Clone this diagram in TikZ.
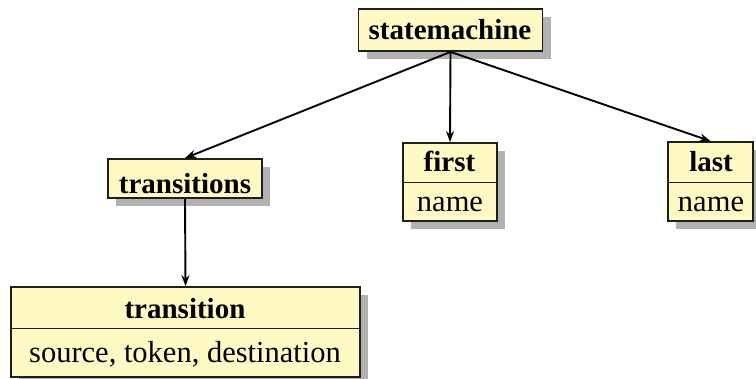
\documentclass[tikz,border=0pt]{standalone}
\usepackage{fontspec}
\setmainfont{Liberation Serif}
\newfontfamily\labelface{Liberation Serif}
\usetikzlibrary{shadows,arrows.meta}
\definecolor{boxfill}{RGB}{255,249,196}
\definecolor{boxline}{RGB}{30,30,30}
\definecolor{shade}{RGB}{178,178,178}
\begin{document}
\begin{tikzpicture}[x=1pt,y=-1pt,
  classbox/.style={draw=boxline, line width=1.8pt, fill=boxfill, inner sep=0pt,
    drop shadow={shadow xshift=8pt, shadow yshift=-8pt, fill=shade, opacity=1}},
  title/.style={font=\labelface\fontsize{29}{34}\selectfont\bfseries, inner sep=0pt, anchor=base},
  body/.style={font=\labelface\fontsize{30.5}{36}\selectfont, inner sep=0pt, anchor=base},
  divider/.style={draw=boxline, line width=1.2pt},
  link/.style={line width=1.9pt, -{Stealth[length=11pt,width=8pt]}}
]
\useasboundingbox (0,0) rectangle (756,379);

% class boxes
\node[classbox, minimum width=184pt, minimum height=42pt] (sm) at (450.5,30) {};
\node[classbox, minimum width=154pt, minimum height=39pt] (trs) at (185,178.5) {};
\node[classbox, minimum width=94pt, minimum height=78pt] (first) at (450,182) {};
\node[classbox, minimum width=85pt, minimum height=79pt] (last) at (710.5,181.5) {};
\node[classbox, minimum width=349pt, minimum height=90pt] (trn) at (185.5,332) {};

% compartment dividers
\coordinate (firstD) at (450,182.7);
\coordinate (lastD) at (710.5,182.7);
\coordinate (trnD) at (185.5,328.3);
\draw[divider] (first.west |- firstD) -- (first.east |- firstD);
\draw[divider] (last.west |- lastD) -- (last.east |- lastD);
\draw[divider] (trn.west |- trnD) -- (trn.east |- trnD);

% labels
\node[title] (smT) at (450,39.5) {statemachine};
\node[title] (trsT) at (185,193.3) {transitions};
\node[title] (firstT) at (449.5,171.8) {first};
\node[body] (firstB) at (450,211.6) {name};
\node[title] (lastT) at (711,171.8) {last};
\node[body] (lastB) at (711,211.6) {name};
\node[title] (trnT) at (185,318.3) {transition};
\node[body] (trnB) at (185,362.3) {source, token, destination};

% associations
\draw[link] (sm.south) -- (trs.north);
\draw[link] (sm.south) -- (first.north);
\draw[link] (sm.south) -- (last.north);
\draw[link] (trs.south) -- (trn.north);
\end{tikzpicture}
\end{document}
